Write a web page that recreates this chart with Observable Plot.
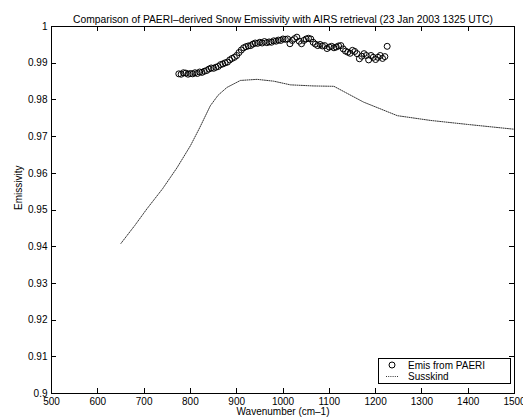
<!DOCTYPE html>
<html><head><meta charset="utf-8">
<script src="https://cdn.jsdelivr.net/npm/d3@7"></script>
<script src="https://cdn.jsdelivr.net/npm/@observablehq/plot@0.6"></script>
<style>body{margin:0;background:#fff} #c{width:523px;height:420px}</style>
</head><body><div id="c"></div>
<script>
const title = "Comparison of PAERI\u2013derived Snow Emissivity with AIRS retrieval (23 Jan 2003 1325 UTC)";
const xLabel = "Wavenumber (cm\u20131)";
const yLabel = "Emissivity";
const xTicks = [500, 600, 700, 800, 900, 1000, 1100, 1200, 1300, 1400, 1500];
const yTicks = [0.9, 0.91, 0.92, 0.93, 0.94, 0.95, 0.96, 0.97, 0.98, 0.99, 1];
const legendLabels = ["Emis from PAERI", "Susskind"];

const paeriWavenumber = [775,780,785,790,795,800,805,810,815,820,825,830,835,840,845,850,855,860,865,870,875,880,885,890,895,900,905,910,915,920,925,930,935,940,945,950,955,960,965,970,975,980,985,990,995,1000,1005,1010,1015,1020,1025,1030,1035,1040,1045,1050,1055,1060,1065,1070,1075,1080,1085,1090,1095,1100,1105,1110,1115,1120,1125,1130,1135,1140,1145,1150,1155,1160,1165,1170,1175,1180,1185,1190,1195,1200,1205,1210,1215,1220,1225];
const paeriEmissivity = [0.9871,0.9870,0.9874,0.9873,0.9870,0.9872,0.9871,0.9874,0.9872,0.9876,0.9875,0.9878,0.9880,0.9884,0.9887,0.9886,0.9889,0.9891,0.9896,0.9898,0.9901,0.9903,0.9909,0.9913,0.9916,0.9921,0.9929,0.9936,0.9942,0.9945,0.9947,0.9948,0.9952,0.9955,0.9954,0.9957,0.9955,0.9959,0.9956,0.9958,0.9957,0.9961,0.9960,0.9963,0.9962,0.9966,0.9965,0.9966,0.9953,0.9962,0.9967,0.9971,0.9960,0.9953,0.9962,0.9966,0.9968,0.9966,0.9957,0.9952,0.9948,0.9951,0.9947,0.9948,0.9940,0.9944,0.9946,0.9942,0.9944,0.9947,0.9948,0.9939,0.9933,0.9930,0.9927,0.9935,0.9932,0.9926,0.9912,0.9919,0.9926,0.9921,0.9909,0.9921,0.9916,0.9910,0.9916,0.9921,0.9913,0.9918,0.9946];

const susskindWavenumber = [650, 680, 706, 740, 771, 800, 820, 843, 860, 879, 908, 944, 980, 1016, 1066, 1110, 1174, 1247, 1319, 1400, 1500];
const susskindEmissivity = [0.9409, 0.9458, 0.9503, 0.9558, 0.9615, 0.9675, 0.9724, 0.9784, 0.9813, 0.9834, 0.9853, 0.9856, 0.9851, 0.9841, 0.9838, 0.9837, 0.9794, 0.9757, 0.9744, 0.9733, 0.9720];

const font = "'Liberation Sans', Arial, Helvetica, sans-serif";

const plot = Plot.plot({
  width: 523, height: 420,
  marginLeft: 51, marginRight: 9, marginTop: 26, marginBottom: 27,
  style: {fontFamily: font, fontSize: "10px", background: "white", color: "black", overflow: "visible"},
  x: {domain: [500, 1500]},
  y: {domain: [0.9, 1]},
  marks: [
    Plot.axisX({ticks: xTicks, tickSize: 0, tickPadding: 4, tickFormat: d => String(d), label: null}),
    Plot.axisY({ticks: yTicks, tickSize: 0, tickPadding: 4, tickFormat: d3.format("~g"), label: null}),
    Plot.line(susskindWavenumber, {x: susskindWavenumber, y: susskindEmissivity, stroke: "#333", strokeWidth: 1, strokeDasharray: "1,1.2"}),
    Plot.dot(paeriWavenumber, {x: paeriWavenumber, y: paeriEmissivity, r: 3, stroke: "black", strokeWidth: 1, fill: "none"}),
    Plot.frame({stroke: "black", strokeWidth: 1}),
    Plot.text([title], {frameAnchor: "top", dy: -11, fontSize: 10.3, text: d => d}),
    Plot.text([xLabel], {frameAnchor: "bottom", dy: 21, fontSize: 10, text: d => d}),
    Plot.text([yLabel], {frameAnchor: "left", dx: -33, rotate: -90, fontSize: 10, text: d => d})
  ]
});

// inward ticks on all four sides, placed with the plot's own scales
const sx = plot.scale("x"), sy = plot.scale("y");
const svg = d3.select(plot);
const g = svg.append("g").attr("stroke", "black").attr("stroke-width", 1);
const yb = sy.apply(0.9), yt = sy.apply(1), xl = sx.apply(500), xr = sx.apply(1500);
const L = 5;
xTicks.forEach(t => {
  const x = Math.round(sx.apply(t)) + 0.5;
  g.append("line").attr("x1", x).attr("x2", x).attr("y1", yb).attr("y2", yb - L);
  g.append("line").attr("x1", x).attr("x2", x).attr("y1", yt).attr("y2", yt + L);
});
yTicks.forEach(t => {
  const y = Math.round(sy.apply(t)) + 0.5;
  g.append("line").attr("x1", xl).attr("x2", xl + L).attr("y1", y).attr("y2", y);
  g.append("line").attr("x1", xr).attr("x2", xr - L).attr("y1", y).attr("y2", y);
});

// legend box in lower right of frame
const lw = 132, lh = 25;
const lx = xr - 4 - lw, ly = yb - 10 - lh;
const lg = svg.append("g").attr("font-family", font).attr("font-size", 10).attr("text-anchor", "start");
lg.append("rect").attr("x", lx + 0.5).attr("y", ly + 0.5).attr("width", lw).attr("height", lh)
  .attr("fill", "white").attr("stroke", "black");
lg.append("circle").attr("cx", lx + 14).attr("cy", ly + 7).attr("r", 3).attr("fill", "none").attr("stroke", "black").attr("stroke-width", 1);
lg.append("line").attr("x1", lx + 8).attr("x2", lx + 21).attr("y1", ly + 18.5).attr("y2", ly + 18.5)
  .attr("stroke", "#333").attr("stroke-dasharray", "1,1.2");
lg.append("text").attr("x", lx + 30).attr("y", ly + 7).attr("dy", "0.35em").attr("text-anchor", "start").text(legendLabels[0]);
lg.append("text").attr("x", lx + 30).attr("y", ly + 18.5).attr("dy", "0.35em").attr("text-anchor", "start").text(legendLabels[1]);

document.getElementById("c").appendChild(plot);
</script>
</body></html>
